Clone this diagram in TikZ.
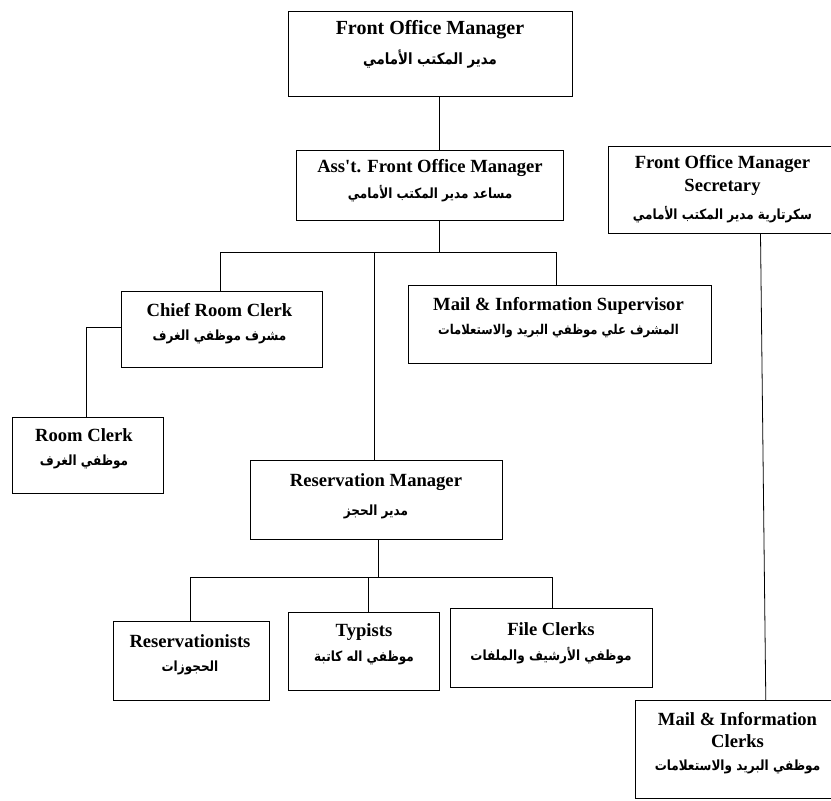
\documentclass[tikz,border=0pt]{standalone}
\usepackage{fontspec}
\setmainfont{Liberation Serif}
\newfontfamily\arabicfont[Script=Arabic,FakeStretch=0.86]{DejaVu Sans}
\TeXXeTstate=1
\begin{document}
\begin{tikzpicture}[x=1pt,y=-1pt,
  box/.style={draw,line width=1.1pt,anchor=north west,inner sep=0pt},
  en/.style={font=\fontsize{18.6}{22}\selectfont\bfseries,inner sep=0pt},
  ar/.style={font=\arabicfont\fontsize{14}{16}\selectfont\bfseries,inner sep=0pt},
  conn/.style={line width=0.8pt}]
\useasboundingbox (0,0) rectangle (831,801);
% boxes
\node[box,minimum width=284pt,minimum height=84.5pt] (fom) at (288,11) {};
\node[box,minimum width=267pt,minimum height=70pt] (afom) at (296,150) {};
\node[box,minimum width=240pt,minimum height=87pt] (sec) at (608,145.6) {};
\node[box,minimum width=201pt,minimum height=76pt] (chief) at (121,291) {};
\node[box,minimum width=303pt,minimum height=78pt] (mis) at (407.5,285) {};
\node[box,minimum width=151pt,minimum height=76.5pt] (room) at (11.7,416.5) {};
\node[box,minimum width=252pt,minimum height=79pt] (resm) at (250,460) {};
\node[box,minimum width=156pt,minimum height=79pt] (resv) at (113,621) {};
\node[box,minimum width=151pt,minimum height=78pt] (typ) at (288,612) {};
\node[box,minimum width=202pt,minimum height=79pt] (file) at (450,608) {};
\node[box,minimum width=220pt,minimum height=98pt] (mic) at (635,700) {};
% texts
\node[en,font=\fontsize{20}{24}\selectfont\bfseries] (fomen) at (430,30) {Front Office Manager};
\node[ar,font=\arabicfont\fontsize{15.5}{18}\selectfont\bfseries] (fomar) at (430,59) {\beginR مدير المكتب الأمامي\endR};
\node[en] (afomen) at (430,168) {Ass\textquotesingle t. Front Office Manager};
\node[ar] (afomar) at (430,194) {\beginR مساعد مدير المكتب الأمامي\endR};
\node[en] (secen1) at (722.5,164.5) {Front Office Manager};
\node[en] (secen2) at (722.5,187) {Secretary};
\node[ar] (secar) at (722.5,214.6) {\beginR سكرتارية مدير المكتب الأمامي\endR};
\node[en] (chiefen) at (219.5,310) {Chief Room Clerk};
\node[ar] (chiefar) at (219.5,337) {\beginR مشرف موظفي الغرف\endR};
\node[en] (misen) at (558.5,305.6) {Mail \& Information Supervisor};
\node[ar,font=\arabicfont\fontsize{13.5}{16}\selectfont\bfseries] (misar) at (558.5,331) {\beginR المشرف علي موظفي البريد والاستعلامات\endR};
\node[en] (roomen) at (84,435) {Room Clerk};
\node[ar] (roomar) at (84,462) {\beginR موظفي الغرف\endR};
\node[en] (resmen) at (376,482) {Reservation Manager};
\node[ar] (resmar) at (376,512) {\beginR مدير الحجز\endR};
\node[en] (resven) at (190,641) {Reservationists};
\node[ar] (resvar) at (190,668) {\beginR الحجوزات\endR};
\node[en] (typen) at (364,632) {Typists};
\node[ar] (typar) at (364,658) {\beginR موظفي اله كاتبة\endR};
\node[en] (fileen) at (551,629.5) {File Clerks};
\node[ar] (filear) at (551,655.6) {\beginR موظفي الأرشيف والملفات\endR};
\node[en] (micen1) at (737.5,719.5) {Mail \& Information};
\node[en] (micen2) at (737.5,741) {Clerks};
\node[ar] (micar) at (737.5,766.5) {\beginR موظفي البريد والاستعلامات\endR};
% connectors
\coordinate (xa) at (439,0);
\coordinate (jA) at (439,252);
\coordinate (jL) at (220.5,252);
\coordinate (jM) at (374.6,252);
\coordinate (jR) at (556,252);
\coordinate (cR) at (86.4,327);
\coordinate (jB) at (378,577);
\coordinate (bL) at (190,577);
\coordinate (bM) at (368,577);
\coordinate (bR) at (552,577);
\coordinate (sL) at (760.5,0);
\coordinate (mL) at (765.8,0);
\draw[conn] (fom.south -| xa) -- (afom.north -| xa);
\draw[conn] (afom.south -| jA) -- (jA);
\draw[conn] (jL) -- (jR);
\draw[conn] (jL) -- (chief.north -| jL);
\draw[conn] (jR) -- (mis.north -| jR);
\draw[conn] (jM) -- (resm.north -| jM);
\draw[conn] (chief.west |- cR) -- (cR) -- (room.north -| cR);
\draw[conn] (resm.south -| jB) -- (jB);
\draw[conn] (bL) -- (bR);
\draw[conn] (bL) -- (resv.north -| bL);
\draw[conn] (bM) -- (typ.north -| bM);
\draw[conn] (bR) -- (file.north -| bR);
\draw[conn] (sec.south -| sL) -- (mic.north -| mL);
\end{tikzpicture}
\end{document}
